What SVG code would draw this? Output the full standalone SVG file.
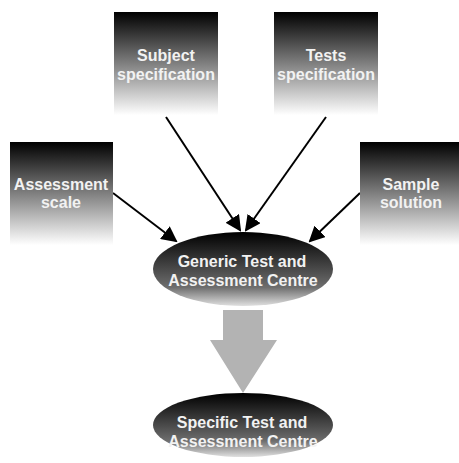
<svg xmlns="http://www.w3.org/2000/svg" width="459" height="463" viewBox="0 0 459 463">
<defs>
<linearGradient id="g" x1="0" y1="0" x2="0" y2="1">
<stop offset="0" stop-color="#000"/>
<stop offset="1" stop-color="#fff"/>
</linearGradient>
<linearGradient id="gl" x1="0" y1="0" x2="0" y2="1">
<stop offset="0" stop-color="#000"/>
<stop offset="0.75" stop-color="#6e6e6e"/>
<stop offset="1" stop-color="#e0e0e0"/>
</linearGradient>
<marker id="ah" markerWidth="8" markerHeight="8" refX="7" refY="4" orient="auto" markerUnits="strokeWidth">
<path d="M0,0 L8,4 L0,8 z" fill="#000"/>
</marker>
<style>
.box{fill:url(#g);}
.ell{fill:url(#gl);}
.t{font-family:"Liberation Sans",Arial,sans-serif;font-weight:bold;font-size:16px;fill:#f2f2f2;text-anchor:middle;}
.c{stroke:#000;stroke-width:2;fill:none;marker-end:url(#ah);}
</style>
</defs>
<g id="connectors">
<line class="c" x1="166" y1="117" x2="240" y2="230"/>
<line class="c" x1="326" y1="117" x2="246" y2="230"/>
<line class="c" x1="113" y1="193" x2="176" y2="241"/>
<line class="c" x1="360" y1="193" x2="310" y2="241"/>
<path d="M223,310 H263 V340 H277 L243,393 L210,340 H223 Z" fill="#b3b3b3"/>
</g>
<g id="subject">
<rect class="box" x="114" y="12" width="104" height="103"/>
<text class="t" x="166" y="61">Subject</text>
<text class="t" x="166" y="80">specification</text>
</g>
<g id="tests">
<rect class="box" x="274" y="12" width="104" height="103"/>
<text class="t" x="326" y="61">Tests</text>
<text class="t" x="326" y="80">specification</text>
</g>
<g id="assessment">
<rect class="box" x="10" y="142" width="103" height="103"/>
<text class="t" x="61" y="190">Assessment</text>
<text class="t" x="61" y="208">scale</text>
</g>
<g id="sample">
<rect class="box" x="360" y="142" width="103" height="103"/>
<text class="t" x="411" y="190">Sample</text>
<text class="t" x="411" y="208">solution</text>
</g>
<g id="generic">
<ellipse class="ell" cx="243" cy="269" rx="90" ry="37"/>
<text class="t" x="242" y="267">Generic Test and</text>
<text class="t" x="243" y="286">Assessment Centre</text>
</g>
<g id="specific">
<ellipse class="ell" cx="243" cy="425" rx="90" ry="32"/>
<text class="t" x="242" y="428">Specific Test and</text>
<text class="t" x="243" y="447">Assessment Centre</text>
</g>
</svg>
